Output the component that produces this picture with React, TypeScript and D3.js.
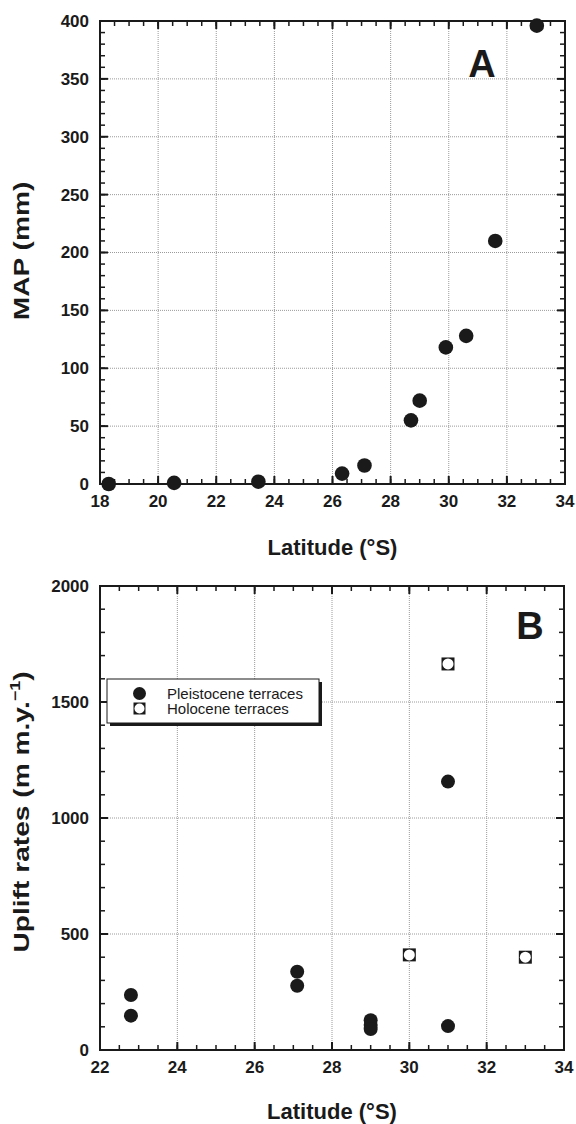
import React from "react";
import * as d3 from "d3";

// ---------- Data ----------
const mapLatitudes = [18.3, 20.55, 23.45, 26.33, 27.1, 28.7, 29.0, 29.9, 30.6, 31.6, 33.03];
const mapValues = [0, 1, 2, 9, 16, 55, 72, 118, 128, 210, 396];

const pleistoceneLat = [22.8, 22.8, 27.1, 27.1, 29.0, 29.0, 29.0, 31.0, 31.0];
const pleistoceneRate = [237, 148, 337, 277, 128, 108, 90, 103, 1157];

const holoceneLat = [31.0, 30.0, 33.0];
const holoceneRate = [1664, 410, 400];

const xTicksA = [18, 20, 22, 24, 26, 28, 30, 32, 34];
const yTicksA = [0, 50, 100, 150, 200, 250, 300, 350, 400];
const xTicksB = [22, 24, 26, 28, 30, 32, 34];
const yTicksB = [0, 500, 1000, 1500, 2000];

const legendLabels = ["Pleistocene terraces", "Holocene terraces"];

const FONT = "'Liberation Sans', Arial, Helvetica, sans-serif";
const GRID = "#9a9a9a";

type PanelProps = {
  left: number;
  right: number;
  top: number;
  bottom: number;
  xDomain: [number, number];
  yDomain: [number, number];
  xTicks: number[];
  yTicks: number[];
  xMinorStep: number;
  yMinorStep: number;
  letter: string;
  letterX: number;
  letterY: number;
  children: (x: d3.ScaleLinear<number, number>, y: d3.ScaleLinear<number, number>) => React.ReactNode;
};

function Panel(p: PanelProps) {
  const x = d3.scaleLinear().domain(p.xDomain).range([p.left, p.right]);
  const y = d3.scaleLinear().domain(p.yDomain).range([p.bottom, p.top]);
  const xMinor = d3.range(p.xDomain[0], p.xDomain[1] + 1e-9, p.xMinorStep);
  const yMinor = d3.range(p.yDomain[0], p.yDomain[1] + 1e-9, p.yMinorStep);
  const major = 8;
  const minor = 5;
  return (
    <g>
      {p.xTicks.slice(1, -1).map((t) => (
        <line key={"gx" + t} x1={x(t)} x2={x(t)} y1={p.top} y2={p.bottom} stroke={GRID} strokeWidth={1} strokeDasharray="1,1" />
      ))}
      {p.yTicks.slice(1, -1).map((t) => (
        <line key={"gy" + t} x1={p.left} x2={p.right} y1={y(t)} y2={y(t)} stroke={GRID} strokeWidth={1} strokeDasharray="1,1" />
      ))}
      {xMinor.map((t) => (
        <g key={"mx" + t} stroke="#1a1a1a" strokeWidth={1.5}>
          <line x1={x(t)} x2={x(t)} y1={p.bottom} y2={p.bottom - minor} />
          <line x1={x(t)} x2={x(t)} y1={p.top} y2={p.top + minor} />
        </g>
      ))}
      {yMinor.map((t) => (
        <g key={"my" + t} stroke="#1a1a1a" strokeWidth={1.5}>
          <line x1={p.left} x2={p.left + minor} y1={y(t)} y2={y(t)} />
          <line x1={p.right} x2={p.right - minor} y1={y(t)} y2={y(t)} />
        </g>
      ))}
      {p.xTicks.map((t) => (
        <g key={"Mx" + t} stroke="#1a1a1a" strokeWidth={2}>
          <line x1={x(t)} x2={x(t)} y1={p.bottom} y2={p.bottom - major} />
          <line x1={x(t)} x2={x(t)} y1={p.top} y2={p.top + major} />
        </g>
      ))}
      {p.yTicks.map((t) => (
        <g key={"My" + t} stroke="#1a1a1a" strokeWidth={2}>
          <line x1={p.left} x2={p.left + major} y1={y(t)} y2={y(t)} />
          <line x1={p.right} x2={p.right - major} y1={y(t)} y2={y(t)} />
        </g>
      ))}
      <rect x={p.left} y={p.top} width={p.right - p.left} height={p.bottom - p.top} fill="none" stroke="#1a1a1a" strokeWidth={2} />
      {p.xTicks.map((t) => (
        <text key={"lx" + t} x={x(t)} y={p.bottom + 23} textAnchor="middle" fontFamily={FONT} fontWeight="bold" fontSize={17} fill="#1a1a1a">
          {t}
        </text>
      ))}
      {p.yTicks.map((t) => (
        <text key={"ly" + t} x={p.left - 11} y={y(t)} dy="0.35em" textAnchor="end" fontFamily={FONT} fontWeight="bold" fontSize={17} fill="#1a1a1a">
          {t}
        </text>
      ))}
      {p.children(x, y)}
      <text x={p.letterX} y={p.letterY} textAnchor="middle" fontFamily={FONT} fontWeight="bold" fontSize={38} fill="#1a1a1a">
        {p.letter}
      </text>
    </g>
  );
}

function HoloceneMarker({ cx, cy, s }: { cx: number; cy: number; s: number }) {
  return (
    <g>
      <rect x={cx - s / 2} y={cy - s / 2} width={s} height={s} fill="#1a1a1a" />
      <circle cx={cx} cy={cy} r={s / 2 - 1} fill="#ffffff" />
    </g>
  );
}

export default function App() {
  const W = 576;
  const H = 1124;
  const A = { left: 100, right: 565, top: 21, bottom: 484 };
  const B = { left: 100, right: 564, top: 586, bottom: 1050 };
  const legend = { x: 107, y: 679, w: 212, h: 44 };

  return (
    <svg width={W} height={H} style={{ position: "absolute", left: 0, top: 0, background: "#fff" }}>
      <rect width={W} height={H} fill="#fff" />
      <Panel
        {...A}
        xDomain={[18, 34]}
        yDomain={[0, 400]}
        xTicks={xTicksA}
        yTicks={yTicksA}
        xMinorStep={0.5}
        yMinorStep={10}
        letter="A"
        letterX={482}
        letterY={77}
      >
        {(x, y) =>
          mapLatitudes.map((lat, i) => <circle key={i} cx={x(lat)} cy={y(mapValues[i])} r={7.3} fill="#1a1a1a" />)
        }
      </Panel>
      <text x={(A.left + A.right) / 2} y={555} textAnchor="middle" fontFamily={FONT} fontWeight="bold" fontSize={22} fill="#1a1a1a">
        Latitude (°S)
      </text>
      <text
        transform={`translate(29, 251) rotate(-90) scale(1.28, 1)`}
        textAnchor="middle"
        fontFamily={FONT}
        fontWeight="bold"
        fontSize={22}
        fill="#1a1a1a"
      >
        MAP (mm)
      </text>

      <Panel
        {...B}
        xDomain={[22, 34]}
        yDomain={[0, 2000]}
        xTicks={xTicksB}
        yTicks={yTicksB}
        xMinorStep={0.5}
        yMinorStep={100}
        letter="B"
        letterX={530}
        letterY={639}
      >
        {(x, y) => (
          <g>
            {pleistoceneLat.map((lat, i) => (
              <circle key={"p" + i} cx={x(lat)} cy={y(pleistoceneRate[i])} r={7} fill="#1a1a1a" />
            ))}
            {holoceneLat.map((lat, i) => (
              <HoloceneMarker key={"h" + i} cx={x(lat)} cy={y(holoceneRate[i])} s={13} />
            ))}
          </g>
        )}
      </Panel>
      <rect x={legend.x + 3} y={legend.y + 3} width={legend.w} height={legend.h} fill="#1a1a1a" />
      <rect x={legend.x} y={legend.y} width={legend.w} height={legend.h} fill="#fff" stroke="#1a1a1a" strokeWidth={1} />
      <circle cx={139.5} cy={693.5} r={6.5} fill="#1a1a1a" />
      <HoloceneMarker cx={139.5} cy={708.5} s={12} />
      {legendLabels.map((l, i) => (
        <text key={l} x={167} y={699 + i * 15} fontFamily={FONT} fontSize={15} fill="#1a1a1a">
          {l}
        </text>
      ))}
      <text x={(B.left + B.right) / 2} y={1119} textAnchor="middle" fontFamily={FONT} fontWeight="bold" fontSize={22} fill="#1a1a1a">
        Latitude (°S)
      </text>
      <text
        transform={`translate(29, 812) rotate(-90) scale(1.28, 1)`}
        textAnchor="middle"
        fontFamily={FONT}
        fontWeight="bold"
        fontSize={22}
        fill="#1a1a1a"
      >
        Uplift rates (m m.y.
        <tspan fontSize={14} dy={-9}>−1</tspan>
        <tspan dy={9}>)</tspan>
      </text>
    </svg>
  );
}
